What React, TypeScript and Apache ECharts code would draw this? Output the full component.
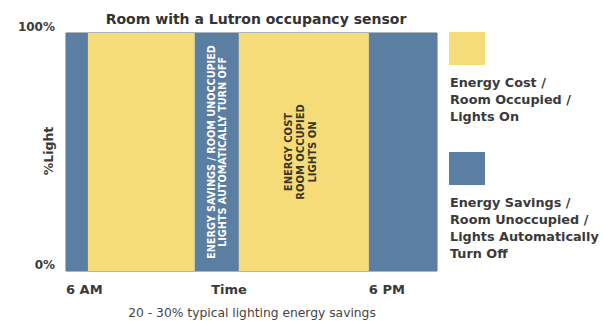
import React, { useEffect, useRef } from "react";
import * as echarts from "echarts";

// Time in hours (6 = 6 AM, 18 = 6 PM)
const segStart = [6, 6.87, 11.1, 12.85, 18];
const segEnd = [6.87, 11.1, 12.85, 18, 20.7];
const segType = ["saving", "cost", "saving", "cost", "saving"];
const segLight = [100, 100, 100, 100, 100];
const segText = [
  "",
  "",
  "ENERGY SAVINGS / ROOM UNOCCUPIED\nLIGHTS AUTOMATICALLY TURN OFF",
  "ENERGY COST\nROOM OCCUPIED\nLIGHTS ON",
  "",
];
const xTicks = [6, 18];
const xTickLabels = ["6 AM", "6 PM"];
const yTicks = [0, 100];
const legendLabels = [
  "Energy Cost /\nRoom Occupied /\nLights On",
  "Energy Savings /\nRoom Unoccupied /\nLights Automatically\nTurn Off",
];

const YELLOW = "#F5DC78";
const BLUE = "#5A7FA3";
const FONT = "'DejaVu Sans', Arial, sans-serif";

export default function App() {
  const ref = useRef<HTMLDivElement>(null);
  useEffect(() => {
    if (!ref.current) return;
    const chart = echarts.init(ref.current, undefined, { renderer: "svg" });
    const data = segStart.map((s, i) => [s, segEnd[i], segLight[i], i]);
    chart.setOption({
      animation: false,
      title: {
        text: "Room with a Lutron occupancy sensor",
        left: 251,
        textAlign: "center",
        top: 7,
        textStyle: { fontFamily: FONT, fontSize: 14, fontWeight: "bold", color: "#333" },
      },
      grid: {
        left: 66,
        right: 166,
        top: 33,
        bottom: 50,
        containLabel: false,
        outerBoundsMode: "none",
        show: true,
        borderColor: "#5d6a76",
        borderWidth: 1,
      },
      xAxis: {
        type: "value",
        min: 6,
        max: 20.7,
        splitLine: { show: false },
        axisLine: { show: false },
        axisTick: { show: false },
        axisLabel: {
          customValues: xTicks,
          formatter: (v: number) => xTickLabels[xTicks.indexOf(v)] ?? "",
          align: "left",
          verticalAlign: "top",
          margin: 12,
          fontFamily: FONT,
          fontSize: 13,
          fontWeight: "bold",
          color: "#3a3a3a",
        },
      },
      yAxis: {
        type: "value",
        min: 0,
        max: 100,
        interval: 100,
        splitLine: { show: false },
        axisLine: { show: false },
        axisTick: { show: false },
        axisLabel: {
          customValues: yTicks,
          formatter: "{value}%",
          verticalAlign: "bottom",
          margin: 11,
          fontFamily: FONT,
          fontSize: 12,
          fontWeight: "bold",
          color: "#3a3a3a",
        },
      },
      series: [
        {
          type: "custom",
          encode: { x: [0, 1], y: 2 },
          data,
          renderItem: (params: any, api: any) => {
            const s = api.value(0);
            const e = api.value(1);
            const v = api.value(2);
            const idx = api.value(3);
            const p0 = api.coord([s, v]);
            const p1 = api.coord([e, 0]);
            const isCost = segType[idx] === "cost";
            const children: any[] = [
              {
                type: "rect",
                shape: { x: p0[0], y: p0[1], width: p1[0] - p0[0], height: p1[1] - p0[1] },
                style: { fill: isCost ? YELLOW : BLUE },
              },
            ];
            const txt = segText[idx];
            if (txt) {
              children.push({
                type: "text",
                x: (p0[0] + p1[0]) / 2 - (isCost ? 3 : 0),
                y: (p0[1] + p1[1]) / 2,
                rotation: Math.PI / 2,
                style: {
                  text: txt,
                  align: "center",
                  verticalAlign: "middle",
                  fill: isCost ? "#3a3522" : "#fff",
                  font: `bold ${isCost ? 10 : 9.7}px ${FONT}`,
                  lineHeight: isCost ? 12 : 11,
                },
              });
            }
            return { type: "group", children };
          },
        },
      ],
      graphic: [
        {
          type: "text",
          x: 48,
          y: 151,
          rotation: Math.PI / 2,
          style: { text: "%Light", font: `bold 12.5px ${FONT}`, fill: "#3a3a3a", align: "center", verticalAlign: "middle" },
        },
        { type: "rect", left: 449, top: 32, shape: { width: 36, height: 33 }, style: { fill: YELLOW } },
        {
          type: "text",
          left: 450,
          top: 74,
          style: { text: legendLabels[0], font: `bold 12.8px ${FONT}`, fill: "#3a3a3a", lineHeight: 17 },
        },
        { type: "rect", left: 449, top: 152, shape: { width: 36, height: 33 }, style: { fill: BLUE } },
        {
          type: "text",
          left: 450,
          top: 194,
          style: { text: legendLabels[1], font: `bold 12.8px ${FONT}`, fill: "#3a3a3a", lineHeight: 17 },
        },
        {
          type: "text",
          x: 229,
          y: 289,
          style: { text: "Time", font: `bold 13px ${FONT}`, fill: "#3a3a3a", align: "center", verticalAlign: "middle" },
        },
        {
          type: "text",
          x: 252,
          y: 313,
          style: {
            text: "20 - 30% typical lighting energy savings",
            font: `12.3px ${FONT}`,
            fill: "#444",
            align: "center",
            verticalAlign: "middle",
          },
        },
      ],
    });
    return () => chart.dispose();
  }, []);
  return (
    <div
      ref={ref}
      style={{ position: "fixed", left: 0, top: 0, width: 603, height: 321, background: "#fff" }}
    />
  );
}
